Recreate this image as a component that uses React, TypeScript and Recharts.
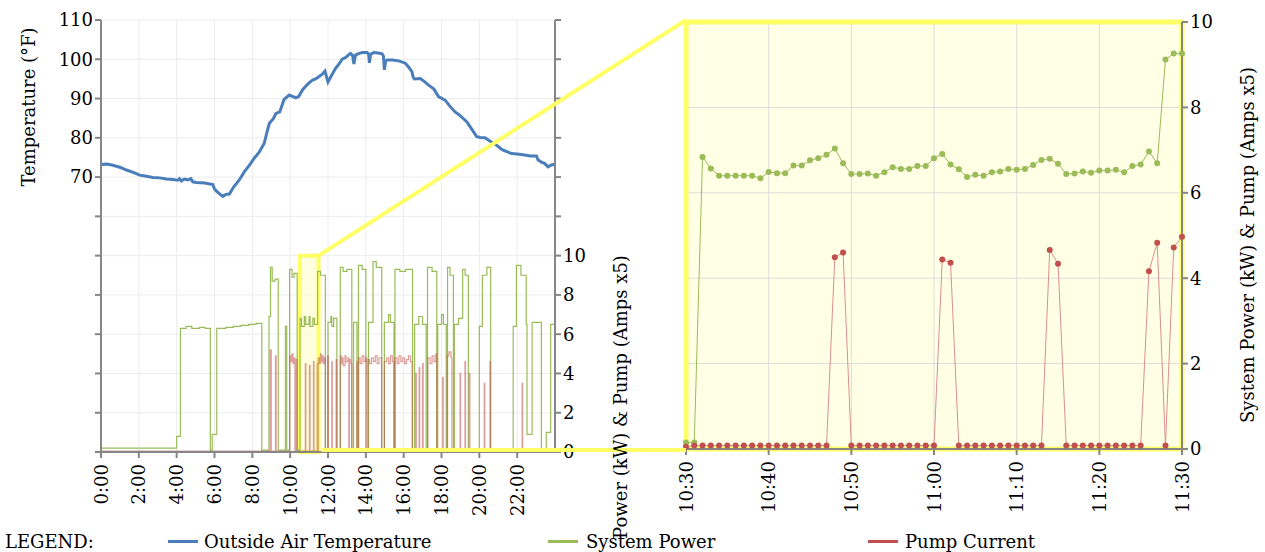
import React from "react";
import {
  LineChart,
  Line,
  XAxis,
  YAxis,
  CartesianGrid,
  ReferenceArea,
} from "recharts";

const FONT = '"DejaVu Serif", serif';
const FS = 18;
const BLUE = "#4a7ebb";
const GREEN = "#9bbb59";
const RED = "#c0504d";
const YELLOW = "#ffff66";
const AXIS = "#868686";

// full day, [hour, value]
const outsideAirTemp: [number, number][] = [
  [0, 73.2], [0.3, 73.3], [0.63, 73.0], [1.0, 72.5], [1.35, 71.8], [1.7, 71.2],
  [2.05, 70.5], [2.4, 70.2], [2.74, 69.9], [3.1, 69.8], [3.46, 69.5], [3.8, 69.4],
  [4.06, 69.2], [4.15, 69.6], [4.25, 69.0], [4.4, 69.5], [4.6, 69.3], [4.75, 69.6],
  [4.85, 68.8], [5.04, 68.6], [5.5, 68.5], [5.91, 68.1], [6.0, 67.0], [6.09, 66.5],
  [6.3, 65.6], [6.44, 65.1], [6.6, 65.6], [6.79, 65.7], [7.0, 67.4], [7.3, 69.2],
  [7.6, 71.5], [7.84, 73.0], [8.1, 74.8], [8.37, 76.4], [8.63, 78.6], [8.75, 81.0],
  [8.9, 83.7], [9.1, 84.8], [9.25, 86.2], [9.45, 86.6], [9.68, 89.8], [9.95, 90.9],
  [10.15, 90.5], [10.3, 90.2], [10.45, 90.5], [10.65, 92.2], [10.83, 93.2], [11.0, 94.0],
  [11.18, 94.7], [11.35, 95.0], [11.53, 95.6], [11.7, 96.2], [11.84, 97.0], [12.0, 94.2],
  [12.2, 96.0], [12.4, 97.7], [12.55, 98.6], [12.75, 100.0], [12.95, 100.5], [13.1, 101.2],
  [13.19, 101.5], [13.3, 101.0], [13.37, 98.8], [13.45, 101.0], [13.54, 101.3], [13.81, 101.7],
  [14.07, 101.7], [14.15, 101.3], [14.19, 99.1], [14.25, 101.3], [14.42, 101.7], [14.65, 101.6],
  [14.86, 101.4], [14.93, 100.8], [14.98, 97.3], [15.05, 99.6], [15.12, 99.8], [15.4, 99.8],
  [15.74, 99.6], [16.09, 99.0], [16.3, 97.8], [16.44, 96.8], [16.5, 95.5], [16.56, 95.0],
  [16.88, 95.1], [17.1, 94.3], [17.32, 93.4], [17.6, 92.4], [17.84, 90.5], [18.19, 89.6],
  [18.45, 88.0], [18.72, 86.6], [19.0, 85.6], [19.33, 84.1], [19.6, 82.2], [19.86, 80.3],
  [20.05, 80.1], [20.3, 80.0], [20.55, 79.2], [20.83, 78.4], [21.2, 77.0], [21.7, 76.0],
  [22.0, 75.9], [22.4, 75.6], [22.7, 75.4], [23.02, 75.4], [23.1, 74.4], [23.28, 73.8],
  [23.45, 73.5], [23.63, 72.6], [23.81, 73.1], [24, 73.3],
];

// step series: value holds until next time
const systemPowerDay: [number, number][] = [
  [0, 0.2], [4.0, 0.8], [4.2, 6.3], [4.5, 6.4], [4.8, 6.3], [5.2, 6.35], [5.5, 6.3],
  [5.78, 0.1], [5.88, 0.9], [6.12, 6.3], [6.6, 6.35], [7.0, 6.4], [7.4, 6.45], [7.8, 6.5],
  [8.2, 6.55], [8.5, 0.1], [8.88, 6.9], [8.96, 9.4], [9.05, 8.7], [9.2, 8.8], [9.37, 0.1],
  [9.75, 6.4], [9.82, 0.1], [9.97, 9.3], [10.1, 8.9], [10.2, 9.1], [10.37, 0.1],
  [10.52, 6.8], [10.6, 6.4], [10.75, 6.9], [10.82, 6.5], [11.0, 6.9], [11.05, 6.4],
  [11.2, 6.8], [11.28, 6.5], [11.45, 9.2], [11.6, 9.0], [11.86, 0.1], [12.0, 6.6],
  [12.15, 6.9], [12.2, 6.4], [12.3, 6.8], [12.47, 0.1], [12.65, 9.4], [12.8, 9.2],
  [13.0, 9.3], [13.26, 0.1], [13.35, 6.6], [13.53, 0.1], [13.61, 9.5], [13.8, 9.3],
  [14.0, 0.1], [14.14, 6.6], [14.38, 9.7], [14.55, 9.4], [14.84, 0.1], [14.98, 6.6],
  [15.2, 7.0], [15.3, 6.6], [15.49, 0.1], [15.54, 9.3], [15.8, 9.2], [16.1, 9.3],
  [16.47, 0.1], [16.58, 6.5], [16.8, 6.9], [17.0, 6.5], [17.19, 0.1], [17.26, 9.4],
  [17.5, 9.2], [17.75, 0.1], [17.8, 6.5], [18.0, 7.0], [18.1, 6.5], [18.25, 0.1],
  [18.32, 9.4], [18.45, 9.0], [18.63, 0.1], [18.68, 6.5], [18.9, 6.8], [19.12, 9.3],
  [19.25, 9.0], [19.42, 0.1], [20.0, 6.4], [20.16, 9.0], [20.4, 9.4], [20.6, 0.1],
  [21.79, 6.4], [21.96, 9.5], [22.2, 9.0], [22.48, 6.5], [22.52, 0.9], [22.79, 6.6],
  [23.28, 0.1], [23.54, 1.0], [23.77, 6.5], [24, 6.5],
];

const pumpCurrentDay: [number, number][] = [
  [0, 0.05], [8.95, 5.2], [9.0, 0.05], [9.22, 4.9], [9.26, 0.05], [9.98, 4.9], [10.05, 4.6],
  [10.1, 5.0], [10.15, 4.5], [10.2, 4.8], [10.25, 0.05], [10.3, 4.7], [10.37, 0.05],
  [10.8, 4.5], [10.83, 0.05], [11.02, 4.4], [11.05, 0.05], [11.23, 4.6], [11.26, 0.05],
  [11.43, 4.5], [11.46, 0.05], [11.48, 4.8], [11.55, 4.5], [11.6, 5.0], [11.65, 4.6],
  [11.7, 4.9], [11.75, 4.5], [11.8, 4.8], [11.86, 0.05], [11.98, 4.9], [12.02, 0.05],
  [12.2, 4.6], [12.23, 0.05], [12.43, 4.7], [12.47, 0.05], [12.65, 4.9], [12.7, 4.5],
  [12.75, 4.8], [12.8, 4.4], [12.9, 4.9], [12.95, 4.6], [13.05, 4.8], [13.1, 0.05],
  [13.13, 4.7], [13.2, 4.5], [13.26, 0.05], [13.52, 4.6], [13.55, 0.05], [13.62, 4.8],
  [13.7, 4.5], [13.8, 4.9], [13.9, 4.6], [14.0, 4.8], [14.05, 0.05], [14.12, 4.7],
  [14.2, 4.5], [14.3, 4.8], [14.4, 4.6], [14.5, 4.9], [14.6, 4.5], [14.7, 4.8],
  [14.84, 0.05], [14.98, 4.6], [15.1, 4.8], [15.2, 4.5], [15.3, 4.9], [15.4, 4.6],
  [15.49, 0.05], [15.54, 4.8], [15.65, 4.5], [15.75, 4.9], [15.85, 4.6], [15.95, 4.8],
  [16.05, 4.5], [16.15, 4.7], [16.25, 4.9], [16.35, 4.6], [16.45, 0.05], [16.64, 4.0],
  [16.67, 0.05], [16.82, 4.3], [16.85, 0.05], [17.0, 4.5], [17.03, 0.05], [17.28, 4.8],
  [17.4, 4.5], [17.5, 4.9], [17.6, 4.6], [17.7, 5.0], [17.75, 0.05], [18.06, 3.8],
  [18.09, 0.05], [18.3, 4.9], [18.4, 5.1], [18.5, 4.8], [18.55, 0.05], [18.98, 4.0],
  [19.01, 0.05], [19.24, 4.6], [19.27, 0.05], [19.47, 4.0], [19.5, 0.05], [20.26, 3.5],
  [20.29, 0.05], [20.56, 4.6], [20.59, 0.05], [22.26, 3.5], [22.29, 0.05], [24, 0.05],
];

const dayTicks = [0, 2, 4, 6, 8, 10, 12, 14, 16, 18, 20, 22];
const dayTickLabels = ["0:00", "2:00", "4:00", "6:00", "8:00", "10:00", "12:00", "14:00", "16:00", "18:00", "20:00", "22:00"];
const tempTicks = [0, 10, 20, 30, 40, 50, 60, 70, 80, 90, 100, 110];
const powerDayTicks = [0, 2, 4, 6, 8, 10, 12, 14, 16, 18, 20, 22];

// zoom window 10:30 - 11:30, one reading per minute
const zoomMinutes = [
  630, 631, 632, 633, 634, 635, 636, 637, 638, 639,
  640, 641, 642, 643, 644, 645, 646, 647, 648, 649,
  650, 651, 652, 653, 654, 655, 656, 657, 658, 659,
  660, 661, 662, 663, 664, 665, 666, 667, 668, 669,
  670, 671, 672, 673, 674, 675, 676, 677, 678, 679,
  680, 681, 682, 683, 684, 685, 686, 687, 688, 689,
  690,
];
const zoomPower = [
  0.15, 0.15, 6.84, 6.57, 6.40, 6.40, 6.40, 6.40, 6.40, 6.34,
  6.49, 6.46, 6.46, 6.64, 6.64, 6.76, 6.81, 6.89, 7.04, 6.69,
  6.44, 6.44, 6.45, 6.40, 6.48, 6.60, 6.56, 6.56, 6.63, 6.63,
  6.81, 6.91, 6.66, 6.55, 6.37, 6.42, 6.40, 6.48, 6.50, 6.56,
  6.54, 6.56, 6.65, 6.77, 6.80, 6.68, 6.44, 6.45, 6.50, 6.47,
  6.52, 6.52, 6.54, 6.48, 6.63, 6.66, 6.97, 6.69, 9.12, 9.26,
  9.26,
];
const zoomPump = [
  0.05, 0.08, 0.08, 0.08, 0.08, 0.08, 0.08, 0.08, 0.08, 0.08,
  0.08, 0.08, 0.08, 0.08, 0.08, 0.08, 0.08, 0.08, 4.49, 4.60,
  0.08, 0.08, 0.08, 0.08, 0.08, 0.08, 0.08, 0.08, 0.08, 0.08,
  0.08, 4.44, 4.36, 0.08, 0.08, 0.08, 0.08, 0.08, 0.08, 0.08,
  0.08, 0.08, 0.08, 0.08, 4.66, 4.34, 0.08, 0.08, 0.08, 0.08,
  0.08, 0.08, 0.08, 0.08, 0.08, 0.08, 4.16, 4.83, 0.08, 4.72,
  4.97,
];
const zoomTicks = [630, 640, 650, 660, 670, 680, 690];
const zoomTickLabels = ["10:30", "10:40", "10:50", "11:00", "11:10", "11:20", "11:30"];
const zoomPowerTicks = [0, 2, 4, 6, 8, 10];

const toPoints = (rows: [number, number][]) => rows.map(([t, v]) => ({ t, v }));

const zoomData = zoomMinutes.map((t, i) => ({
  t,
  power: zoomPower[i],
  pump: zoomPump[i],
}));

// layout
const LEFT_W = 640;
const CH_H = 520;
const L_PLOT = { x0: 101, x1: 555, y0: 20, y1: 452 };
const RIGHT_X = 640;
const R_PLOT = { x0: 686, x1: 1182, y0: 22, y1: 449 };

const tickText = { fill: "#000", fontSize: FS, fontFamily: FONT };

function RotatedTick({ x, y, payload, ticks, labels }: any) {
  const i = ticks.indexOf(payload.value);
  const label = i >= 0 ? labels[i] : "";
  const ty = y + 4;
  return (
    <text
      x={x}
      y={ty}
      transform={`rotate(-90, ${x}, ${ty})`}
      textAnchor="end"
      dominantBaseline="central"
      fill="#000"
      fontSize={FS}
      fontFamily={FONT}
    >
      {label}
    </text>
  );
}

export default function App() {
  // zoom box corner in left chart
  const boxX = L_PLOT.x0 + ((L_PLOT.x1 - L_PLOT.x0) * 11.5) / 24;
  const boxTop = L_PLOT.y1 - ((L_PLOT.y1 - L_PLOT.y0) * 10) / 22;

  const legendText = { position: "absolute" as const, top: 532, fontSize: FS, lineHeight: "20px", color: "#000" };

  return (
    <div style={{ position: "relative", width: 1265, height: 552, background: "#fff", fontFamily: FONT }}>
      <style>{"body{margin:0}"}</style>

      <div style={{ position: "absolute", left: 0, top: 0 }}>
        <LineChart width={LEFT_W} height={CH_H} margin={{ top: 20, right: 0, left: 0, bottom: 0 }}>
          <CartesianGrid yAxisId="temp" stroke="#ececec" strokeWidth={1} />
          <XAxis
            type="number"
            dataKey="t"
            domain={[0, 24]}
            ticks={dayTicks}
            interval={0}
            height={68}
            stroke={AXIS}
            strokeWidth={2}
            tickSize={6}
            tick={<RotatedTick ticks={dayTicks} labels={dayTickLabels} />}
            allowDataOverflow
          />
          <YAxis
            yAxisId="temp"
            domain={[0, 110]}
            ticks={tempTicks}
            interval={0}
            width={101}
            stroke={AXIS}
            strokeWidth={2}
            tickSize={6}
            tick={tickText}
            tickFormatter={(v: number) => (v >= 70 ? String(v) : "")}
          />
          <YAxis
            yAxisId="power"
            orientation="right"
            domain={[0, 22]}
            ticks={powerDayTicks}
            interval={0}
            width={85}
            stroke={AXIS}
            strokeWidth={2}
            tickSize={6}
            tick={tickText}
            tickFormatter={(v: number) => (v <= 10 ? String(v) : "")}
          />
          <Line
            yAxisId="power"
            data={toPoints(systemPowerDay)}
            dataKey="v"
            type="stepAfter"
            stroke={GREEN}
            strokeWidth={1.2}
            dot={false}
            isAnimationActive={false}
          />
          <Line
            yAxisId="power"
            data={toPoints(pumpCurrentDay)}
            dataKey="v"
            type="stepAfter"
            stroke={RED}
            strokeOpacity={0.55}
            strokeWidth={1.2}
            dot={false}
            isAnimationActive={false}
          />
          <Line
            yAxisId="temp"
            data={toPoints(outsideAirTemp)}
            dataKey="v"
            type="linear"
            stroke={BLUE}
            strokeWidth={3}
            dot={false}
            isAnimationActive={false}
          />
          <ReferenceArea
            yAxisId="power"
            x1={10.5}
            x2={11.5}
            y1={0}
            y2={10}
            fill="#ffffcc"
            fillOpacity={0.6}
            stroke={YELLOW}
            strokeWidth={4}
            strokeOpacity={1}
          />
        </LineChart>
      </div>

      <div style={{ position: "absolute", left: RIGHT_X, top: 0 }}>
        <LineChart
          width={1265 - RIGHT_X}
          height={CH_H}
          data={zoomData}
          margin={{ top: R_PLOT.y0, right: 0, left: R_PLOT.x0 - RIGHT_X, bottom: 0 }}
        >
          <CartesianGrid fill="#ffffe6" fillOpacity={1} stroke="#dcdcdc" strokeWidth={1} />
          <ReferenceArea
            x1={630}
            x2={690}
            y1={0}
            y2={10}
            fill="none"
            stroke={YELLOW}
            strokeWidth={5}
            strokeOpacity={1}
          />
          <XAxis
            type="number"
            dataKey="t"
            domain={[630, 690]}
            ticks={zoomTicks}
            interval={0}
            height={CH_H - R_PLOT.y1}
            stroke={AXIS}
            strokeWidth={2}
            tickSize={6}
            tick={<RotatedTick ticks={zoomTicks} labels={zoomTickLabels} />}
          />
          <YAxis
            orientation="right"
            domain={[0, 10]}
            ticks={zoomPowerTicks}
            interval={0}
            width={1265 - R_PLOT.x1}
            stroke={AXIS}
            strokeWidth={2}
            tickSize={6}
            tick={tickText}
          />
          <Line
            dataKey="power"
            type="linear"
            stroke={GREEN}
            strokeWidth={1}
            dot={{ r: 3, fill: GREEN, stroke: "none" }}
            isAnimationActive={false}
          />
          <Line
            dataKey="pump"
            type="linear"
            stroke="#dc8f8d"
            strokeWidth={1}
            dot={{ r: 3, fill: RED, stroke: "none" }}
            isAnimationActive={false}
          />
        </LineChart>
      </div>

      <svg
        width={1265}
        height={552}
        style={{ position: "absolute", left: 0, top: 0, pointerEvents: "none" }}
      >
        <line x1={boxX} y1={boxTop} x2={R_PLOT.x0} y2={R_PLOT.y0 - 2} stroke={YELLOW} strokeWidth={4} />
        <line x1={boxX + 3} y1={R_PLOT.y1 + 1} x2={R_PLOT.x0} y2={R_PLOT.y1 + 1} stroke={YELLOW} strokeWidth={4} />
        <text
          transform="translate(28,107) rotate(-90)"
          textAnchor="middle"
          dominantBaseline="central"
          fontSize={FS}
          fontFamily={FONT}
          fill="#000"
        >
          Temperature (°F)
        </text>
        <text
          transform="translate(620,397) rotate(-90)"
          textAnchor="middle"
          dominantBaseline="central"
          fontSize={FS}
          fontFamily={FONT}
          fill="#000"
        >
          Power (kW) &amp; Pump (Amps x5)
        </text>
        <text
          transform="translate(1247,245) rotate(-90)"
          textAnchor="middle"
          dominantBaseline="central"
          fontSize={FS}
          fontFamily={FONT}
          fill="#000"
        >
          System Power (kW) &amp; Pump (Amps x5)
        </text>
      </svg>

      <div style={{ ...legendText, left: 5 }}>LEGEND:</div>
      <div style={{ position: "absolute", left: 168, top: 540, width: 30, height: 3, background: BLUE }} />
      <div style={{ ...legendText, left: 204 }}>Outside Air Temperature</div>
      <div style={{ position: "absolute", left: 548, top: 540, width: 30, height: 3, background: GREEN }} />
      <div style={{ ...legendText, left: 586 }}>System Power</div>
      <div style={{ position: "absolute", left: 868, top: 540, width: 30, height: 3, background: RED }} />
      <div style={{ ...legendText, left: 905 }}>Pump Current</div>
    </div>
  );
}
